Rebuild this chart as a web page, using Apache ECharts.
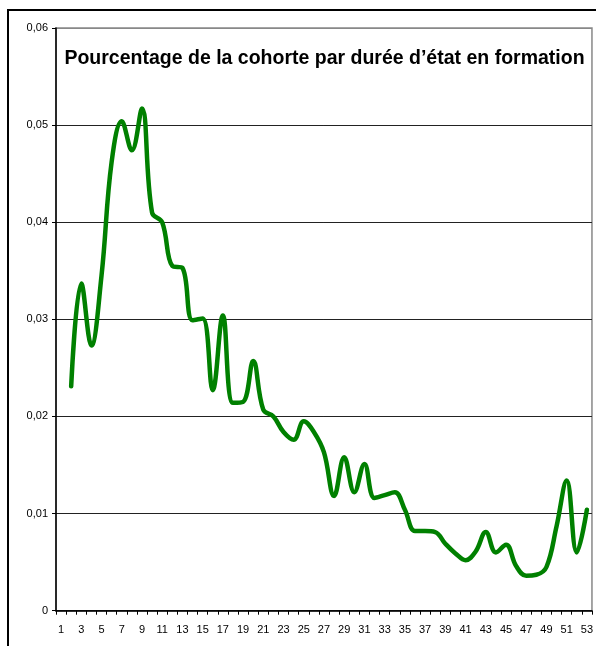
<!DOCTYPE html>
<html>
<head>
<meta charset="utf-8">
<script src="https://cdn.jsdelivr.net/npm/echarts@6/dist/echarts.min.js"></script>
<style>
html,body{margin:0;padding:0;background:#fff;}
#c{width:596px;height:646px;}
</style>
</head>
<body>
<div id="c"></div>
<script>
const titleText = "Pourcentage de la cohorte par durée d’état en formation";
const categories = [];
for (let i = 1; i <= 53; i++) categories.push(String(i));
const values = [
  null, 0.0231, 0.0337, 0.0273, 0.0345, 0.0462, 0.0504, 0.0474, 0.0517, 0.0410,
  0.0400, 0.0355, 0.0353, 0.0299, 0.0301, 0.0227, 0.0304, 0.0214, 0.0215, 0.0257,
  0.0207, 0.0200, 0.0184, 0.0176, 0.0195, 0.0184, 0.0163, 0.0118, 0.0158, 0.0122,
  0.0151, 0.0116, 0.0119, 0.0122, 0.0104, 0.0082, 0.0082, 0.0081, 0.0069, 0.0059,
  0.0052, 0.0061, 0.0081, 0.0060, 0.0068, 0.0046, 0.0036, 0.0037, 0.0045, 0.0087,
  0.0134, 0.0060, 0.0104
];
const yMin = 0, yMax = 0.06, yStep = 0.01;

const chart = echarts.init(document.getElementById('c'), null, {renderer: 'canvas'});
chart.setOption({
  animation: false,
  backgroundColor: '#fff',
  title: {
    text: titleText,
    left: 319.5, textAlign: 'center',
    top: 44,
    textStyle: {fontFamily: 'Liberation Sans, Arial', fontWeight: 'bold', fontSize: 19.5, color: '#000'}
  },
  graphic: [{
    type: 'rect',
    shape: {x: 8, y: 10, width: 600, height: 650},
    style: {fill: 'none', stroke: '#000', lineWidth: 2},
    silent: true
  }],
  grid: {left: 56, top: 28, right: 1.5, bottom: 35.3, show: true, borderColor: '#888', borderWidth: 1.5, backgroundColor: 'transparent'},
  xAxis: {
    type: 'category',
    data: categories,
    boundaryGap: true,
    axisLine: {lineStyle: {color: '#000', width: 1.5}},
    axisTick: {show: true, interval: 0, length: 4, alignWithLabel: false, lineStyle: {color: '#000', width: 1}},
    axisLabel: {interval: 1, margin: 14, fontFamily: 'Liberation Sans, Arial', fontSize: 11, color: '#000'},
    splitLine: {show: false}
  },
  yAxis: {
    type: 'value',
    min: yMin, max: yMax, interval: yStep,
    axisLine: {show: true, lineStyle: {color: '#000', width: 1.5}},
    axisTick: {show: true, length: 4, lineStyle: {color: '#000'}},
    axisLabel: {
      margin: 8, fontFamily: 'Liberation Sans, Arial', fontSize: 11, color: '#000',
      formatter: v => v === 0 ? '0' : v.toFixed(2).replace('.', ',')
    },
    splitLine: {show: true, lineStyle: {color: ['#222','#222','#222','#222','#222','#222','#888'], width: 1}}
  },
  series: [{
    type: 'line',
    data: values,
    smooth: 0.4,
    showSymbol: false,
    symbol: 'none',
    connectNulls: false,
    lineStyle: {color: '#008000', width: 4.5, cap: 'round', join: 'round'},
    itemStyle: {color: '#008000'}
  }]
});
</script>
</body>
</html>
